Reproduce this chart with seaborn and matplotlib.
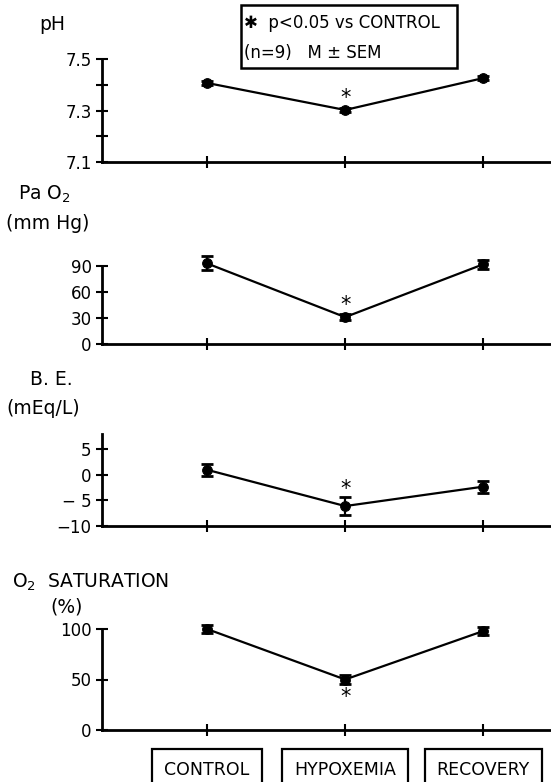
import matplotlib.pyplot as plt
import matplotlib.patches as patches
import seaborn as sns
import numpy as np

# data (mean, SEM) for each phase
phases = ['CONTROL', 'HYPOXEMIA', 'RECOVERY']

ph_mean = [7.407, 7.302, 7.426]
ph_sem = [0.008, 0.008, 0.008]

pao2_mean = [93, 31, 92]
pao2_sem = [8, 3.5, 5]

be_mean = [1.0, -6.1, -2.3]
be_sem = [1.2, 1.8, 1.2]

sat_mean = [100, 50, 98]
sat_sem = [4, 4, 4]

# significance marks (phase index, y position)
ph_star = (1, 7.35)
pao2_star = (1, 45)
be_star = (1, -2.7)
sat_star = (1, 33)

W, H = 551, 782

sns.set_style('ticks')
plt.rcParams['font.family'] = ['DejaVu Sans']
plt.rcParams['text.color'] = 'black'
plt.rcParams['xtick.color'] = 'black'
plt.rcParams['ytick.color'] = 'black'

fig = plt.figure(figsize=(W / 100, H / 100), dpi=100)


def px_axes(left, top, right, bottom):
    return fig.add_axes([left / W, 1 - bottom / H, (right - left) / W, (bottom - top) / H])


def ftext(x, y, s, **kw):
    kw.setdefault('fontsize', 13.5)
    kw.setdefault('va', 'center')
    kw.setdefault('ha', 'left')
    kw.setdefault('color', 'black')
    fig.text(x / W, 1 - y / H, s, **kw)


panels = [
    # (top px, bottom px, ylim, ticks, ticklabels, mean, sem, star)
    (59, 162, (7.1, 7.5), [7.1, 7.2, 7.3, 7.4, 7.5],
     ['7.1', '', '7.3', '', '7.5'], ph_mean, ph_sem, ph_star),
    (266, 344, (0, 90), [0, 30, 60, 90],
     ['0', '30', '60', '90'], pao2_mean, pao2_sem, pao2_star),
    (434, 526, (-10, 8), [-10, -5, 0, 5],
     ['\u221210', '\u2212 5', '0', '5'], be_mean, be_sem, be_star),
    (629, 730, (0, 100), [0, 50, 100],
     ['0', '50', '100'], sat_mean, sat_sem, sat_star),
]

xs = np.arange(len(phases))
axes = []
for top, bottom, ylim, ticks, tlabels, mean, sem, star in panels:
    ax = px_axes(102, top, 551, bottom)
    sns.lineplot(x=xs, y=mean, ax=ax, color='black', lw=1.6,
                 marker='o', markersize=7, markeredgecolor='black')
    ax.errorbar(xs, mean, yerr=sem, fmt='none', ecolor='black',
                elinewidth=1.6, capsize=4, capthick=2)
    for art in ax.lines + ax.collections:
        art.set_clip_on(False)
    ax.text(star[0], star[1], '*', ha='center', va='center',
            fontsize=15, color='black')
    ax.set_xlim(-0.76, 2.49)
    ax.set_ylim(*ylim)
    ax.set_yticks(ticks)
    ax.set_yticklabels(tlabels, fontsize=12)
    ax.set_xticks(xs)
    ax.set_xticklabels([])
    ax.tick_params(axis='both', direction='inout', length=9, width=1.5,
                   color='black', pad=3)
    for side in ['top', 'right']:
        ax.spines[side].set_visible(False)
    for side in ['left', 'bottom']:
        ax.spines[side].set_linewidth(2)
        ax.spines[side].set_color('black')
    ax.set_facecolor('none')
    ax.grid(False)
    axes.append(ax)

# panel titles
ftext(39, 25, 'pH')
ftext(18, 194, 'Pa O$_2$')
ftext(6, 223, '(mm Hg)')
ftext(30, 380, 'B. E.')
ftext(6, 408, '(mEq/L)')
ftext(12, 582, 'O$_2$  SATURATION')
ftext(50, 607, '(%)')

# legend box
fig.patches.append(patches.Rectangle((241 / W, 1 - 68 / H), (457 - 241) / W, (68 - 5) / H,
                                     transform=fig.transFigure, fill=False,
                                     edgecolor='black', lw=1.8))
ftext(244, 23, '\u2731  p<0.05 vs CONTROL', fontsize=12)
ftext(244, 53, '(n=9)   M \u00b1 SEM', fontsize=12)

# phase boxes under the bottom panel
for x, name in zip(xs, phases):
    axes[-1].annotate(name, xy=(x, 0), xycoords=('data', 'axes fraction'),
                      xytext=(0, -40), textcoords='offset pixels',
                      ha='center', va='center', fontsize=12.5, color='black',
                      bbox=dict(boxstyle='square,pad=0.7', fc='white',
                                ec='black', lw=1.6),
                      annotation_clip=False)

fig.savefig('out.png', dpi=100)
